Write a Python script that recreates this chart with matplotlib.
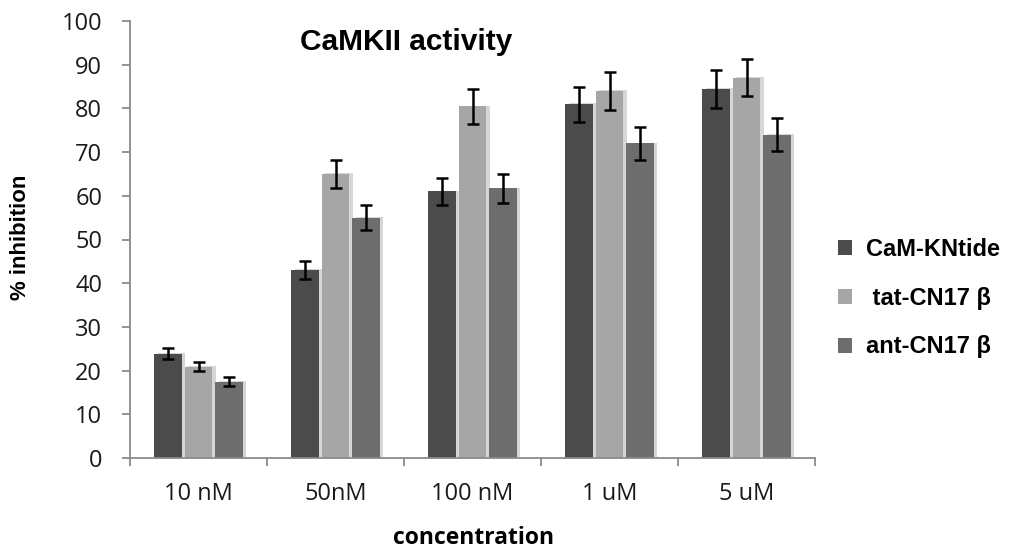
import numpy as np
import matplotlib
matplotlib.use("Agg")
import matplotlib.pyplot as plt
import matplotlib.patheffects as pe

# data
concentrations = ["10 nM", "50nM", "100 nM", "1 uM", "5 uM"]
series_names = ["CaM-KNtide", " tat-CN17 \u03b2", "ant-CN17 \u03b2"]
cam_kntide = [23.9, 43.0, 61.0, 81.0, 84.4]
tat_cn17 = [20.9, 65.0, 80.5, 84.0, 87.0]
ant_cn17 = [17.5, 55.0, 61.7, 72.0, 74.0]
cam_err = [1.3, 2.0, 3.0, 4.0, 4.3]
tat_err = [1.0, 3.3, 4.0, 4.3, 4.2]
ant_err = [1.1, 2.8, 3.3, 3.7, 3.7]

colors = ["#4b4b4b", "#a6a6a6", "#6d6d6d"]

fig = plt.figure(figsize=(10.15, 5.54), dpi=100)
ax = fig.add_axes([130 / 1015, 1 - 458 / 554, (815 - 130) / 1015, (458 - 21) / 554])

x = np.arange(len(concentrations))
width = 0.198
step = 0.223
shadow = [pe.SimplePatchShadow(offset=(2.5, 0.5), shadow_rgbFace="#d2d2d2", alpha=0.9), pe.Normal()]

all_vals = [cam_kntide, tat_cn17, ant_cn17]
all_errs = [cam_err, tat_err, ant_err]
for i, (vals, errs) in enumerate(zip(all_vals, all_errs)):
    pos = x + (i - 1) * step
    ax.bar(pos, vals, width, color=colors[i], label=series_names[i],
           path_effects=shadow, zorder=2)
    ax.errorbar(pos, vals, yerr=errs, fmt="none", ecolor="black",
                elinewidth=1.8, capsize=4.5, capthick=1.8, zorder=3)

ax.set_xlim(-0.5, len(concentrations) - 0.5)
ax.set_ylim(0, 100)
ax.set_yticks(np.arange(0, 101, 10))
ax.set_xticks(x)
ax.set_xticks(np.arange(-0.5, len(concentrations), 1.0), minor=True)
ax.set_xticklabels(concentrations, fontsize=17, family="Open Sans", color="#1a1a1a")
ax.set_yticklabels([str(v) for v in range(0, 101, 10)], fontsize=17,
                   family="Open Sans", color="#1a1a1a")

for s in ["top", "right"]:
    ax.spines[s].set_visible(False)
for s in ["left", "bottom"]:
    ax.spines[s].set_color("#8a8a8a")
    ax.spines[s].set_linewidth(1.3)

ax.tick_params(axis="y", direction="out", length=6, width=1.3, color="#8a8a8a", pad=14)
ax.tick_params(axis="x", which="major", length=0, pad=17)
ax.tick_params(axis="x", which="minor", direction="out", length=6, width=1.3, color="#8a8a8a")

fig.text(406 / 1015, 1 - 50 / 554, "CaMKII activity", ha="center", va="baseline",
         fontsize=21.5, fontweight="bold", family="Liberation Sans")
fig.text(20.5 / 1015, 1 - 237 / 554, "% inhibition", rotation=90, ha="center", va="center",
         fontsize=16, fontweight="bold", family="Liberation Sans")
fig.text(474 / 1015, 1 - 538 / 554, "concentration", ha="center", va="center",
         fontsize=16.5, fontweight="bold", family="Open Sans")

leg = ax.legend(loc="center left", bbox_to_anchor=(838 / 1015, 1 - 298 / 554),
                bbox_transform=fig.transFigure, frameon=False, borderpad=0,
                borderaxespad=0, handlelength=0.6, handleheight=0.6,
                handletextpad=0.6, labelspacing=1.1,
                prop={"family": "Liberation Sans", "weight": "bold", "size": 17})
for h in leg.legend_handles:
    h.set_path_effects([])

fig.savefig("out.png", dpi=100)
